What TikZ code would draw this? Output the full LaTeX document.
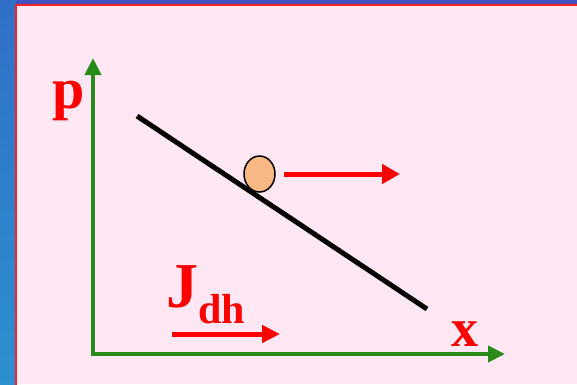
\documentclass[tikz,border=0pt]{standalone}
\usepackage{fontspec}
\setmainfont{Liberation Serif}
\usetikzlibrary{arrows.meta,shapes.geometric}
\definecolor{bgpink}{HTML}{FFE8F4}
\definecolor{frame}{HTML}{FF2020}
\definecolor{bluetop}{HTML}{3070C8}
\definecolor{bluebot}{HTML}{2E90D0}
\definecolor{bluestrip}{HTML}{4050C0}
\definecolor{axisgreen}{HTML}{2A8A1A}
\definecolor{ballfill}{HTML}{F9B985}
\definecolor{txtred}{HTML}{FF0000}
\tikzset{
  axisline/.style={draw=axisgreen,line width=4pt,-{Triangle[length=17pt,width=16pt]}},
  redarrow/.style={draw=txtred,line width=5pt,-{Triangle[length=18pt,width=19pt]}},
  lbl/.style={text=txtred,inner sep=0pt,anchor=base west,font=\bfseries},
}
\begin{document}
\begin{tikzpicture}[x=1pt,y=1pt]
\useasboundingbox (0,-384) rectangle (577,0);
% background
\shade[top color=bluetop,bottom color=bluebot] (0,-384) rectangle (16,0);
\fill[bluestrip] (16,-5) rectangle (577,0);
\fill[bgpink] (16,-384) rectangle (577,-5);
\draw[frame,line width=2pt] (16,-390) -- (16,-5) -- (590,-5);
% axes
\coordinate (O) at (93,-354);
\coordinate (ytip) at (93,-58);
\coordinate (xtip) at (505,-354);
\draw[axisline] (93,-352) -- (ytip);
\draw[axisline] (91,-354) -- (xtip);
% black line
\coordinate (l1) at (137,-116);
\coordinate (l2) at (427,-309);
\draw[line width=5pt] (l1) -- (l2);
% ball
\node[ellipse,draw=black,line width=1.5pt,fill=ballfill,minimum width=31pt,minimum height=36pt,inner sep=0pt] (ball) at (259.5,-174) {};
% arrows
\coordinate (a1) at (284,-174);
\coordinate (a2) at (400,-174);
\draw[redarrow] (a1) -- (a2);
\coordinate (j1) at (172,-334);
\coordinate (j2) at (280,-334);
\draw[redarrow,-{Triangle[length=18pt,width=17pt]}] (j1) -- (j2);
% labels
\node[lbl,font=\bfseries\fontsize{58}{60}\selectfont] (p) at (52,-108) {p};
\node[lbl,font=\bfseries\fontsize{54}{56}\selectfont] (x) at (451,-346) {x};
\node[lbl,font=\bfseries\fontsize{64}{66}\selectfont] (J) at (166,-307) {J};
\node[lbl,font=\bfseries\fontsize{42}{44}\selectfont] (dh) at (198,-323) {dh};
\end{tikzpicture}
\end{document}
